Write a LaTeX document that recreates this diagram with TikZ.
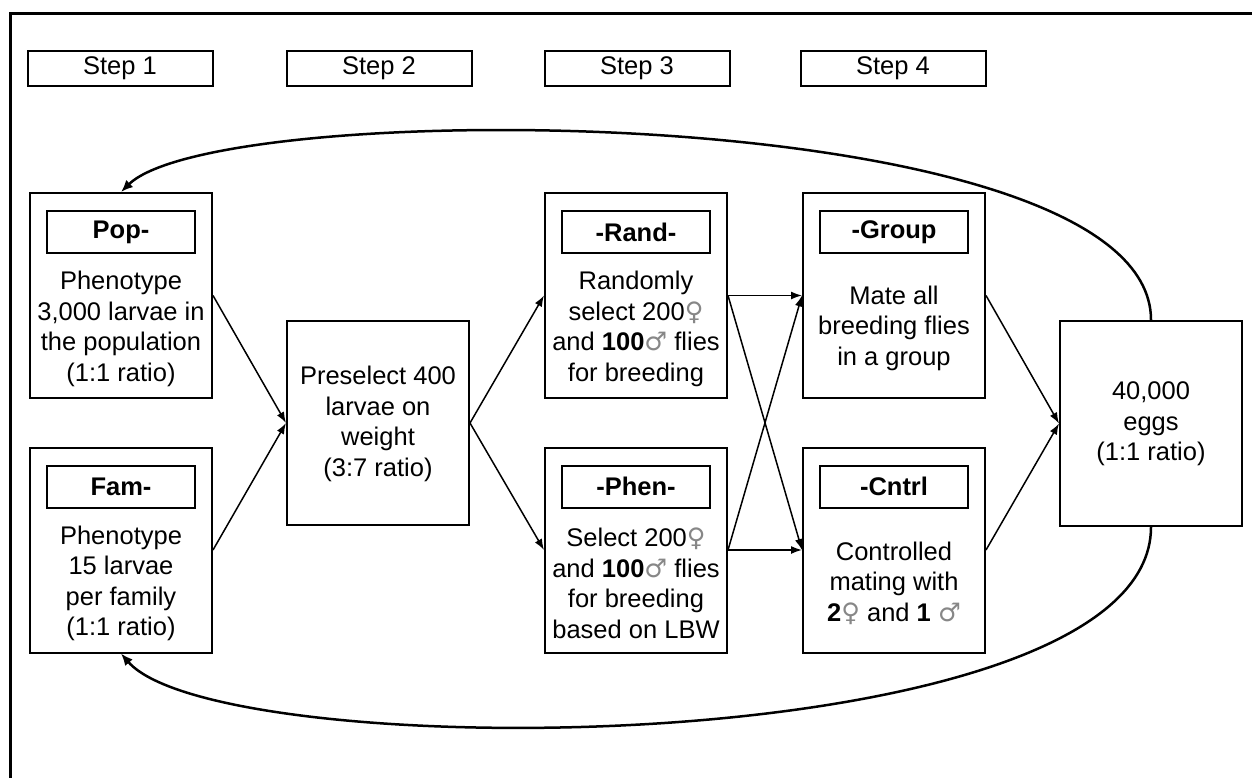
\documentclass[tikz,border=0pt]{standalone}
\usepackage{fontspec}
\setmainfont{Liberation Sans}
\newfontfamily\symfont{DejaVu Sans}
\usetikzlibrary{arrows.meta}
\definecolor{symgray}{RGB}{135,135,135}
\newcommand{\femsym}{{\symfont\color{symgray}♀}}
\newcommand{\malesym}{{\symfont\color{symgray}♂}}
\begin{document}
\begin{tikzpicture}[x=1pt,y=-1pt,
  font=\fontsize{25.5}{30.5}\selectfont,
  stepbox/.style={draw, line width=2pt, minimum width=185pt, minimum height=35pt, inner sep=0pt},
  bigbox/.style={draw, line width=2pt, minimum width=182pt, minimum height=205pt, inner sep=0pt},
  titlebox/.style={draw, line width=2pt, minimum width=148pt, minimum height=42pt, inner sep=0pt, font=\fontsize{25.5}{30}\selectfont\bfseries},
  bodytext/.style={align=center, inner sep=0pt},
  arr/.style={line width=1.5pt, -{Latex[length=11pt,width=8pt]}},
  looparr/.style={line width=2.5pt, -{Latex[length=12pt,width=10pt]}}
]
\useasboundingbox (0,0) rectangle (1252,778);
\draw[line width=3pt] (10,800) -- (10,14) -- (1270,14);

% step labels
\node[stepbox] (s1) at (120,68.5) {Step 1};
\node[stepbox] (s2) at (379,68.5) {Step 2};
\node[stepbox] (s3) at (637,68.5) {Step 3};
\node[stepbox] (s4) at (893,68.5) {Step 4};

% boxes
\node[bigbox] (pop) at (121,295.5) {};
\node[bigbox] (fam) at (121,550) {};
\node[bigbox, minimum height=204pt] (pre) at (378,423) {};
\node[bigbox] (rand) at (636,295.5) {};
\node[bigbox] (phen) at (636,550) {};
\node[bigbox] (group) at (894,295.5) {};
\node[bigbox] (cntrl) at (894,550) {};
\node[bigbox] (eggs) at (1151,423.5) {};

% titles
\node[titlebox] (popt) at (121,232) {Pop-};
\node[titlebox] (famt) at (121,486.5) {Fam-};
\node[titlebox] (randt) at (636,232) {-Rand-};
\node[titlebox] (phent) at (636,486.5) {-Phen-};
\node[titlebox] (groupt) at (894,232) {-Group};
\node[titlebox] (cntrlt) at (894,486.5) {-Cntrl};

% body texts
\node[bodytext] (popx) at (121,329) {Phenotype\\3,000 larvae in\\the population\\(1:1 ratio)};
\node[bodytext] (famx) at (121,583.5) {Phenotype\\15 larvae\\per family\\(1:1 ratio)};
\node[bodytext] (prex) at (378,424) {Preselect 400\\larvae on\\weight\\(3:7 ratio)};
\node[bodytext] (randx) at (636,329) {Randomly\\select 200\femsym\\and \textbf{100}\malesym{} flies\\for breeding};
\node[bodytext] (phenx) at (636,583.5) {Select 200\femsym\\and \textbf{100}\malesym{} flies\\for breeding\\based on LBW};
\node[bodytext] (groupx) at (894,328) {Mate all\\breeding flies\\in a group};
\node[bodytext] (cntrlx) at (894,583) {Controlled\\mating with\\\textbf{2}\femsym{} and \textbf{1} \malesym};
\node[bodytext] (eggsx) at (1151,424) {40,000\\eggs\\(1:1 ratio)};

% connectors
\draw[arr] (pop.east) -- (pre.west);
\draw[arr] (fam.east) -- (pre.west);
\draw[arr] (pre.east) -- (rand.west);
\draw[arr] (pre.east) -- (phen.west);
\draw[arr] (rand.east) -- (group.west);
\draw[arr] (rand.east) -- (cntrl.west);
\draw[arr] (phen.east) -- (group.west);
\draw[arr] (phen.east) -- (cntrl.west);
\draw[arr] (group.east) -- (eggs.west);
\draw[arr] (cntrl.east) -- (eggs.west);

% loops
\draw[looparr] (eggs.north) .. controls (1151,100) and (220,95) .. (pop.north);
\draw[looparr] (eggs.south) .. controls (1151,762) and (220,768) .. (fam.south);
\end{tikzpicture}
\end{document}
